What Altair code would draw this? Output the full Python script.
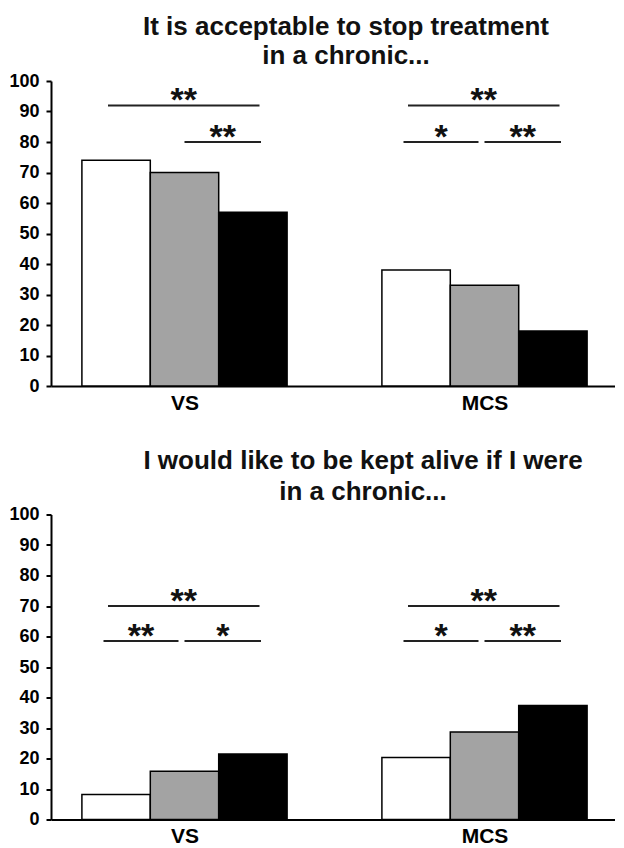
import altair as alt
import pandas as pd

# ---- data ----
categories = ["VS", "MCS"]
groups = ["Group 1", "Group 2", "Group 3"]
group_colors = ["#ffffff", "#a3a3a3", "#000000"]

# percentages, order: VS (g1, g2, g3), MCS (g1, g2, g3)
stop_values = [74, 70, 57, 38, 33, 18]
alive_values = [8.2, 15.8, 21.5, 20.3, 28.7, 37.4]

# significance annotations
stop_sig_cat = ["VS", "VS", "MCS", "MCS", "MCS"]
stop_sig_pair = ["1-3", "2-3", "1-3", "1-2", "2-3"]
stop_sig_level = [92, 80, 92, 80, 80]
stop_sig_label = ["**", "**", "**", "*", "**"]

alive_sig_cat = ["VS", "VS", "VS", "MCS", "MCS", "MCS"]
alive_sig_pair = ["1-3", "1-2", "2-3", "1-3", "1-2", "2-3"]
alive_sig_level = [70, 58.5, 58.5, 70, 58.5, 58.5]
alive_sig_label = ["**", "**", "*", "**", "*", "**"]

# comparison line extents relative to the category centre (category units)
pair_start = {"1-3": -0.255, "1-2": -0.27, "2-3": 0.0}
pair_end = {"1-3": 0.25, "1-2": -0.02, "2-3": 0.255}

y_ticks = list(range(0, 101, 10))

BAR = 0.228  # bar width in category units
X_DOMAIN = [-0.445, 1.435]
FONT = "Liberation Sans"


def bar_table(values):
    rows = []
    for ci, cat in enumerate(categories):
        for gi, grp in enumerate(groups):
            centre = ci + (gi - 1) * BAR
            rows.append({"category": cat, "group": grp,
                         "x0": centre - BAR / 2, "x1": centre + BAR / 2,
                         "value": values[ci * 3 + gi]})
    return pd.DataFrame(rows)


def sig_table(cats, pairs, levels, labels):
    rows = []
    for c, p, lv, lb in zip(cats, pairs, levels, labels):
        ci = categories.index(c)
        xs = ci + pair_start[p]
        xe = ci + pair_end[p]
        rows.append({"xs": xs, "xe": xe, "xm": (xs + xe) / 2, "level": lv, "label": lb})
    return pd.DataFrame(rows)


def panel(values, sig, title_lines, title_dx, line_height, offset):
    x_scale = alt.Scale(domain=X_DOMAIN, nice=False, zero=False)
    y_scale = alt.Scale(domain=[0, 100], nice=False)
    x_axis = alt.Axis(values=[0, 1], labelExpr="datum.value == 0 ? 'VS' : 'MCS'",
                      ticks=False, grid=False, title=None, labelFont=FONT,
                      labelFontSize=21, labelFontWeight="bold", labelColor="black",
                      labelPadding=6, domainColor="black", domainWidth=2)
    y_axis = alt.Axis(values=y_ticks, grid=False, title=None,
                      labelFont=FONT, labelFontSize=18, labelFontWeight="bold",
                      labelColor="black", labelPadding=7, tickSize=5, tickWidth=2,
                      tickColor="black", domainColor="black", domainWidth=2,
                      labelOverlap=False)
    bars = alt.Chart(bar_table(values)).mark_bar(stroke="black", strokeWidth=1.5).encode(
        x=alt.X("x0:Q", scale=x_scale, axis=x_axis),
        x2="x1:Q",
        y=alt.Y("value:Q", scale=y_scale, axis=y_axis),
        y2=alt.datum(0),
        color=alt.Color("group:N", scale=alt.Scale(domain=groups, range=group_colors),
                        legend=None),
    )
    rules = alt.Chart(sig).mark_rule(color="#222222", strokeWidth=2).encode(
        x=alt.X("xs:Q", scale=x_scale, axis=x_axis), x2="xe:Q",
        y=alt.Y("level:Q", scale=y_scale, axis=y_axis))
    stars = alt.Chart(sig).mark_text(font=FONT, fontSize=34, fontWeight="bold",
                                     baseline="alphabetic", dy=6, color="#111111").encode(
        x=alt.X("xm:Q", scale=x_scale, axis=x_axis),
        y=alt.Y("level:Q", scale=y_scale, axis=y_axis), text="label:N")
    return alt.layer(bars, rules, stars).properties(
        width=564, height=305,
        title=alt.TitleParams(title_lines, font=FONT, fontSize=26, fontWeight="bold",
                              color="#111111", anchor="middle", dx=title_dx,
                              lineHeight=line_height, offset=offset),
    )


top = panel(stop_values,
            sig_table(stop_sig_cat, stop_sig_pair, stop_sig_level, stop_sig_label),
            ["It is acceptable to stop treatment", "in a chronic..."], 13, 29, 3.5)
bottom = panel(alive_values,
               sig_table(alive_sig_cat, alive_sig_pair, alive_sig_level, alive_sig_label),
               ["I would like to be kept alive if I were", "in a chronic..."], 30, 31, 1)

chart = alt.vconcat(top, bottom, spacing=34.5).properties(
    padding={"top": 5, "left": 0, "right": 0, "bottom": 0}, background="white"
).configure_view(stroke=None)

chart.save("out.html", embed_options={"renderer": "svg", "actions": False})
